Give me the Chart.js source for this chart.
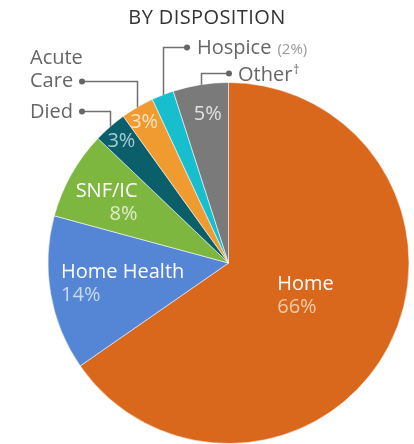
<!DOCTYPE html>
<html>
<head>
<meta charset="utf-8">
<script src="https://cdn.jsdelivr.net/npm/chart.js@4.4.1/dist/chart.umd.min.js"></script>
<style>
  html, body { margin: 0; padding: 0; background: #fff; }
  canvas { display: block; }
</style>
</head>
<body>
<canvas id="pie" width="414" height="444"></canvas>
<script>
// values
const categories = ["Home", "Home Health", "SNF/IC", "Died", "Acute Care", "Hospice", "Other"];
const shares = [66, 14, 8, 3, 3, 2, 5];
const sliceColors = ["#DA681C", "#5585D5", "#7DB73F", "#0B5F6B", "#F09B30", "#17BECE", "#7A7A7A"];
const pctColors = ["#F6CBA8", "#C9D9F3", "#E0EDCC", "#A9CCD1", "#FCE4C2", "#ffffff", "#E2E2E2"];

const FONT = "'Open Sans', 'Noto Sans', sans-serif";

// where labels go inside the slices: radius fraction, angle fraction in the slice
const insideSpots = {
  0: { r: 0.46, a: 0.476, align: "left", name: true },
  1: { r: 0.596, a: 0.49, align: "left", name: true },
  2: { r: 0.757, a: 0.41, align: "right", name: true },
  3: { r: 0.903, a: 0.49 },
  4: { r: 0.915, a: 0.46 },
  6: { r: 0.84, a: 0.56 }
};

// callouts for the small slices
const callouts = [
  { idx: 4, lines: ["Acute", "Care"], textX: 30, baselines: [64, 87], dotX: 82, lineY: 81 },
  { idx: 3, lines: ["Died"], textX: 30, baselines: [118], dotX: 82, lineY: 111 },
  { idx: 5, lines: ["Hospice"], extra: "(2%)", textX: 197, baselines: [54], dotX: 187, lineY: 47 },
  { idx: 6, lines: ["Other"], dagger: true, textX: 238, baselines: [81], dotX: 229, lineY: 73 }
];

const labelPlugin = {
  id: "labelPlugin",
  afterDatasetsDraw(chart) {
    const ctx = chart.ctx;
    const arcs = chart.getDatasetMeta(0).data;
    ctx.save();

    // title
    ctx.fillStyle = "#333";
    ctx.font = "20px " + FONT;
    ctx.textAlign = "center";
    ctx.textBaseline = "alphabetic";
    ctx.letterSpacing = "0.4px";
    ctx.fillText("BY DISPOSITION", 207, 24);
    ctx.letterSpacing = "0px";

    // inside labels
    Object.keys(insideSpots).forEach((k) => {
      const i = +k;
      const s = insideSpots[i];
      const p = arcs[i].getProps(["x", "y", "startAngle", "endAngle", "outerRadius"], true);
      const ang = p.startAngle + (p.endAngle - p.startAngle) * s.a;
      const cx = p.x + Math.cos(ang) * p.outerRadius * s.r;
      const cy = p.y + Math.sin(ang) * p.outerRadius * s.r;
      const lines = [];
      if (s.name) lines.push({ t: categories[i], c: "#ffffff" });
      lines.push({ t: shares[i] + "%", c: pctColors[i] });
      ctx.font = "20px " + FONT;
      const w = Math.max(...lines.map((l) => ctx.measureText(l.t).width));
      const left = cx - w / 2;
      const align = s.align || "center";
      ctx.textAlign = align;
      const x = align === "left" ? left : align === "right" ? left + w : cx;
      let base = lines.length === 2 ? cy - 4.5 : cy + 7;
      lines.forEach((l) => {
        ctx.fillStyle = l.c;
        ctx.fillText(l.t, x, base);
        base += 23;
      });
    });

    // callouts
    ctx.strokeStyle = "#707070";
    ctx.lineWidth = 1.5;
    callouts.forEach((c) => {
      const p = arcs[c.idx].getProps(["x", "y", "startAngle", "endAngle", "outerRadius"], true);
      const mid = (p.startAngle + p.endAngle) / 2;
      const ex = Math.round(p.x + Math.cos(mid) * p.outerRadius) + 0.5;
      const ey = p.y + Math.sin(mid) * p.outerRadius;
      ctx.beginPath();
      ctx.moveTo(ex, ey);
      ctx.lineTo(ex, c.lineY + 0.5);
      ctx.lineTo(c.dotX, c.lineY + 0.5);
      ctx.stroke();
      ctx.fillStyle = "#666";
      ctx.beginPath();
      ctx.arc(c.dotX, c.lineY + 0.5, 3, 0, Math.PI * 2);
      ctx.fill();

      ctx.textAlign = "left";
      ctx.font = "20px " + FONT;
      ctx.fillStyle = "#666";
      c.lines.forEach((t, j) => ctx.fillText(t, c.textX, c.baselines[j]));
      const last = c.lines[c.lines.length - 1];
      const endX = c.textX + ctx.measureText(last).width;
      if (c.extra) {
        ctx.font = "15px " + FONT;
        ctx.fillStyle = "#999";
        ctx.fillText(c.extra, endX + 6, c.baselines[0]);
      }
      if (c.dagger) {
        ctx.font = "12px " + FONT;
        ctx.fillStyle = "#666";
        ctx.fillText("\u2020", endX + 1, c.baselines[0] - 7);
      }
    });
    ctx.restore();
  }
};

new Chart(document.getElementById("pie"), {
  type: "pie",
  data: {
    labels: categories,
    datasets: [{
      data: shares,
      backgroundColor: sliceColors,
      borderColor: "rgba(255,255,255,0.55)",
      borderWidth: 1
    }]
  },
  options: {
    responsive: false,
    animation: false,
    layout: { padding: { top: 82, left: 47, right: 4, bottom: 0 } },
    plugins: {
      legend: { display: false },
      tooltip: { enabled: false },
      title: { display: false }
    }
  },
  plugins: [labelPlugin]
});
</script>
</body>
</html>
